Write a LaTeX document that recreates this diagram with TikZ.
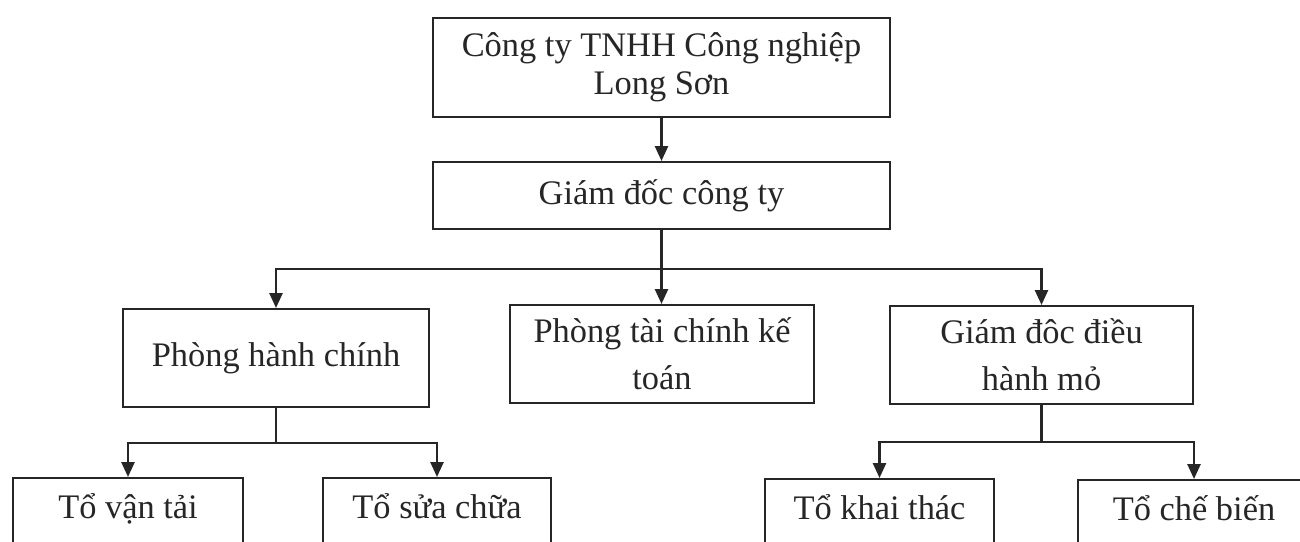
\documentclass[tikz,border=0pt]{standalone}
\usepackage{fontspec}
\setmainfont{Liberation Serif}
\usepackage{tikz}
\usetikzlibrary{positioning,arrows.meta}

\begin{document}
\begin{tikzpicture}[x=0.5pt, y=-0.5pt,
    box/.style={draw=black!85, text=black!85, line width=1pt, inner sep=0pt, align=center,
      font=\fontsize{17.2}{23.5}\selectfont},
    leaf/.style={box, anchor=north, text height=20pt, text depth=40pt},
    conn/.style={draw=black!85, line width=1.3pt, -{Triangle[width=6.5pt,length=7.5pt]}}]
  \useasboundingbox (0,0) rectangle (1300,541);
  \fill[white] (0,0) rectangle (1300,541);
  \clip (0,0) rectangle (1300,541);

  % levels 1 and 2
  \node[box, minimum width=228.5pt, minimum height=49.5pt, font=\fontsize{17.2}{19}\selectfont]
    (cty) at (661.5,67.5) {Công ty TNHH Công nghiệp\\Long Sơn};
  \node[box, minimum width=228.5pt, minimum height=33.5pt] (gd) at (661.5,195.5) {Giám đốc công ty};

  % level 3
  \node[box, minimum width=153pt, minimum height=49pt] (phc) at (276,358) {Phòng hành chính};
  \node[box, minimum width=152pt, minimum height=49pt] (ptc) at (662,354) {Phòng tài chính kế\\toán};
  \node[box, minimum width=151.5pt, minimum height=49pt] (gddh) at (1041.5,355) {Giám đôc điều\\hành mỏ};

  % level 4
  \node[leaf, minimum width=115pt] (tvt) at (128,477) {Tổ vận tải};
  \node[leaf, minimum width=114pt] (tsc) at (437,477) {Tổ sửa chữa};
  \node[leaf, minimum width=114.5pt] (tkt) at (879.5,478) {Tổ khai thác};
  \node[leaf, minimum width=116pt] (tcb) at (1194,479) {Tổ chế biến};

  \draw[conn] (cty) -- (gd);
  \draw[conn] (gd.south) -- (gd.south |- ptc.north);
  \draw[conn] (gd.south) -- ++(0,39) -| (phc.north);
  \draw[conn] (gd.south) -- ++(0,39) -| (gddh.north);

  \draw[conn] (phc.south) -- ++(0,35) -| (tvt.north);
  \draw[conn] (phc.south) -- ++(0,35) -| (tsc.north);
  \draw[conn] (gddh.south) -- ++(0,37) -| (tkt.north);
  \draw[conn] (gddh.south) -- ++(0,37) -| (tcb.north);
\end{tikzpicture}
\end{document}
